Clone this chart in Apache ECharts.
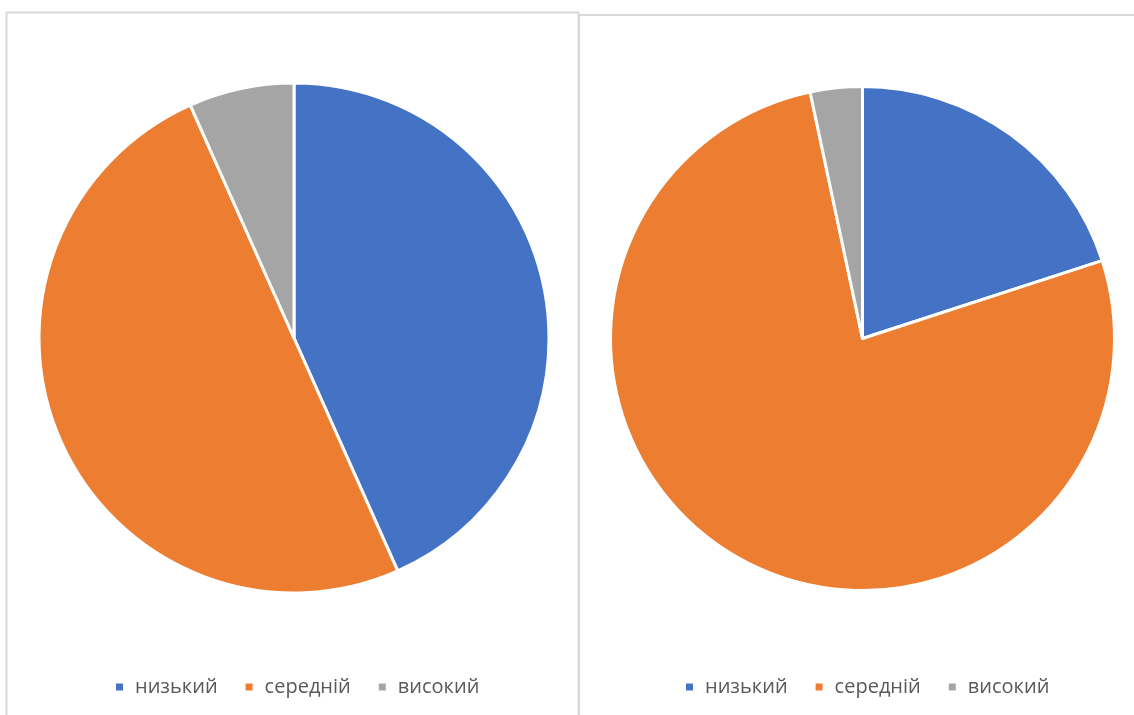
<!DOCTYPE html>
<html>
<head>
<meta charset="utf-8">
<script src="https://cdn.jsdelivr.net/npm/echarts@6/dist/echarts.min.js"></script>
<style>
  html, body { margin: 0; padding: 0; background: #fff; }
  #chart { width: 1134px; height: 715px; }
</style>
</head>
<body>
<div id="chart"></div>
<script>
// categories and values
var levels = ["низький", "середній", "високий"];
var leftValues = [13, 15, 2];
var rightValues = [6, 23, 1];
var colors = ["#4472C4", "#ED7D31", "#A5A5A5"];

function pieData(values) {
  return levels.map(function(name, i) {
    return { name: name, value: values[i] };
  });
}

function legendFor(left) {
  return {
    left: left,
    top: 677,
    padding: 0,
    icon: "rect",
    itemWidth: 7,
    itemHeight: 7,
    itemGap: 28,
    data: levels,
    selectedMode: false,
    itemStyle: { borderWidth: 0 },
    textStyle: {
      color: "#595959",
      fontSize: 20,
      fontFamily: "Open Sans",
      padding: [0, 0, 0, 7]
    }
  };
}

var myChart = echarts.init(document.getElementById("chart"));
var option = {
  animation: false,
  color: colors,
  graphic: [
    {
      type: "rect",
      shape: { x: 6.5, y: 12.5, width: 572, height: 720 },
      style: { fill: null, stroke: "#d9d9d9", lineWidth: 2 }
    },
    {
      type: "rect",
      shape: { x: 579, y: 15, width: 570, height: 720 },
      style: { fill: null, stroke: "#d9d9d9", lineWidth: 2 }
    }
  ],
  legend: [legendFor(116), legendFor(686)],
  series: [
    {
      type: "pie",
      center: [294, 338],
      radius: 255,
      startAngle: 90,
      clockwise: true,
      label: { show: false },
      labelLine: { show: false },
      itemStyle: { borderColor: "#fff", borderWidth: 3 },
      emphasis: { disabled: true },
      data: pieData(leftValues)
    },
    {
      type: "pie",
      center: [862.5, 338.5],
      radius: 252,
      startAngle: 90,
      clockwise: true,
      label: { show: false },
      labelLine: { show: false },
      itemStyle: { borderColor: "#fff", borderWidth: 3 },
      emphasis: { disabled: true },
      data: pieData(rightValues)
    }
  ]
};
myChart.setOption(option);
</script>
</body>
</html>
